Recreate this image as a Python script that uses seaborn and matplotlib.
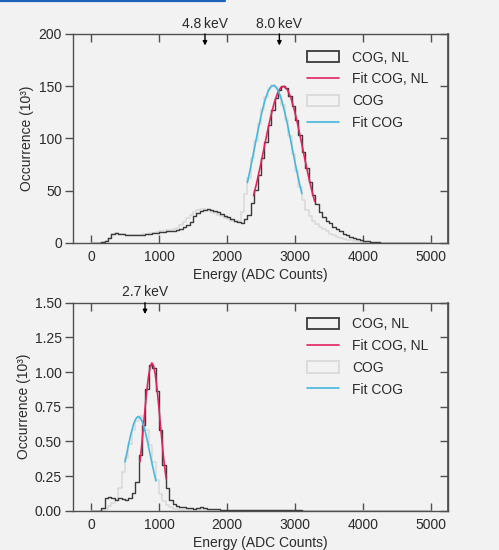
import numpy as np
import pandas as pd
import matplotlib
matplotlib.use("Agg")
import matplotlib.pyplot as plt
import matplotlib.transforms as mtransforms
from matplotlib.patches import Patch
from matplotlib.lines import Line2D
import seaborn as sns

# ---------------- data ----------------
bin_width = 50
bin_left = np.arange(0, 5000, bin_width)   # histogram bins (ADC counts)

# top panel histograms (occurrence, 10^3)
top_cog_nl = [
    0, 0, 0, 0.5, 2, 5, 8.5, 9.5, 9, 8.5,
    8, 8, 7.5, 7.5, 7.5, 8, 8.5, 9, 9.5, 10,
    10.5, 10.5, 11, 11.5, 11.5, 12, 13, 15, 17, 20.5,
    25.5, 28.5, 30.5, 31.5, 32.5, 32, 31, 29.5, 28, 26,
    24.5, 23, 21.5, 20, 19.5, 23, 27, 38, 51, 65,
    81, 97, 113, 127, 139, 146, 150, 148, 141, 131,
    118, 103, 87, 72, 58, 46, 37, 30, 25, 21.5,
    19, 15.5, 13, 11, 9, 7.5, 6, 4.8, 3.7, 3,
    2.2, 1.6, 1.1, 0.8, 0.5, 0.4, 0.3, 0.2, 0.15, 0.1,
    0.1, 0.05, 0.05, 0, 0, 0, 0, 0, 0, 0,
]
top_cog = [
    0, 0, 0, 0.5, 2, 5, 8.5, 9.5, 9, 8.5,
    8, 8, 8, 8, 8, 8.5, 9, 9.5, 10, 10.5,
    11, 11.5, 12, 12.5, 13.5, 14.5, 17, 20, 23.5, 27,
    29.5, 31.5, 32.5, 32.5, 31.5, 30, 28.5, 27, 25.5, 24,
    22.5, 21.5, 20.5, 21, 30, 47, 62, 81, 98, 114,
    128, 140, 148, 151, 149, 142, 132, 118, 102, 85,
    69, 54, 41, 32, 26, 21, 18, 15.5, 13, 11,
    9, 7.5, 6, 5, 4, 3.2, 2.5, 2, 1.5, 1.1,
    0.8, 0.6, 0.4, 0.3, 0.2, 0.1, 0.1, 0, 0, 0,
    0, 0, 0, 0, 0, 0, 0, 0, 0, 0,
]

# bottom panel histograms (occurrence, 10^3)
bot_cog_nl = [
    0, 0, 0, 0.02, 0.09, 0.1, 0.095, 0.08, 0.095, 0.085,
    0.075, 0.095, 0.13, 0.21, 0.40, 0.62, 0.88, 1.05, 1.03, 0.86,
    0.58, 0.33, 0.16, 0.08, 0.045, 0.035, 0.03, 0.025, 0.02, 0.02,
    0.015, 0.02, 0.025, 0.02, 0.015, 0.012, 0.01, 0.01, 0.008, 0.008,
    0.006, 0.005, 0.005, 0.004, 0.004, 0.004, 0.003, 0.003, 0.003, 0.003,
    0.003, 0.002, 0.002, 0.002, 0.002, 0.002, 0.002, 0.002, 0.002, 0.002,
    0.002, 0.002, 0.001, 0.001, 0.001, 0.001, 0.001, 0.001, 0.001, 0.001,
    0.001, 0.001, 0.001, 0.001, 0.001, 0.001, 0.001, 0.001, 0.001, 0.001,
    0.001, 0.001, 0.001, 0.001, 0.001, 0.001, 0.001, 0.001, 0.001, 0.001,
    0.001, 0.001, 0.001, 0.001, 0.001, 0.001, 0.001, 0.001, 0.001, 0.001,
]
bot_cog = [
    0, 0, 0, 0.005, 0.015, 0.035, 0.055, 0.08, 0.16, 0.28,
    0.38, 0.48, 0.58, 0.65, 0.68, 0.65, 0.58, 0.47, 0.35, 0.22,
    0.12, 0.07, 0.04, 0.025, 0.015, 0.012, 0.008, 0.006, 0.005, 0.004,
    0.004, 0.003, 0.003, 0.003, 0.002, 0.002, 0.002, 0.002, 0.001, 0.001,
    0.001, 0.001, 0.001, 0.001, 0.001, 0.001, 0.001, 0.001, 0.001, 0.001,
    0, 0, 0, 0, 0, 0, 0, 0, 0, 0,
    0, 0, 0, 0, 0, 0, 0, 0, 0, 0,
    0, 0, 0, 0, 0, 0, 0, 0, 0, 0,
    0, 0, 0, 0, 0, 0, 0, 0, 0, 0,
    0, 0, 0, 0, 0, 0, 0, 0, 0, 0,
]

# fitted curves
top_fit_nl_x = [2390, 2440, 2490, 2540, 2590, 2640, 2690, 2740, 2790, 2840,
                2890, 2940, 2990, 3040, 3090, 3140, 3190, 3240, 3290]
top_fit_nl_y = [45.3, 58.6, 73.5, 89.4, 105.3, 120.3, 133.2, 142.9, 148.7, 149.9,
                146.4, 138.7, 127.3, 113.3, 97.7, 81.7, 66.2, 52.0, 39.6]
top_fit_x = [2300, 2350, 2400, 2450, 2500, 2550, 2600, 2650, 2700, 2750,
             2800, 2850, 2900, 2950, 3000, 3050, 3100]
top_fit_y = [57.8, 73.2, 89.6, 106.1, 121.6, 134.8, 144.6, 150.0, 150.6, 146.3,
             137.5, 125.0, 110.0, 93.6, 77.1, 61.4, 47.3]
bot_fit_nl_x = [720, 745, 770, 795, 820, 845, 870, 895, 920, 945,
                970, 995, 1020, 1045, 1070, 1095, 1105]
bot_fit_nl_y = [0.352, 0.471, 0.603, 0.738, 0.864, 0.968, 1.038, 1.065, 1.045, 0.982,
                0.882, 0.759, 0.624, 0.491, 0.370, 0.267, 0.231]
bot_fit_x = [500, 525, 550, 575, 600, 625, 650, 675, 700, 725,
             750, 775, 800, 825, 850, 875, 900, 925, 955]
bot_fit_y = [0.352, 0.411, 0.471, 0.528, 0.579, 0.622, 0.654, 0.673, 0.678, 0.668,
             0.645, 0.609, 0.564, 0.510, 0.452, 0.392, 0.333, 0.277, 0.215]

top_markers = [1676, 2770]
top_marker_labels = ["4.8\u2009keV", "8.0\u2009keV"]
bot_markers = [794]
bot_marker_labels = ["2.7\u2009keV"]

legend_labels = ["COG, NL", "Fit COG, NL", "COG", "Fit COG"]
x_label = "Energy (ADC Counts)"
y_label = "Occurrence (10\u00b3)"

# ---------------- style ----------------
sns.set_theme(style="ticks")
plt.rcParams['font.family'] = ['Liberation Sans', 'DejaVu Sans']
BG = '#f2f2f2'
SPINE = '#505050'
TXT = '#2a2a2a'
DARK = '#3a3a3a'
LIGHT = '#d9d9d9'
RED = '#e0245e'
BLUE = '#45b8de'
FS = 10

fig = plt.figure(figsize=(4.99, 5.5), dpi=100, facecolor=BG)
ax1 = fig.add_axes([0.1463, 0.5582, 0.7515, 0.3800])
ax2 = fig.add_axes([0.1463, 0.0715, 0.7515, 0.3782])

fig.add_artist(Line2D([0, 225 / 499], [1 - 1.2 / 550] * 2, color='#1c62b8', lw=1.6,
                      transform=fig.transFigure))

centers = bin_left + bin_width / 2


def panel(ax, cog, cog_nl, fx, fy, fnx, fny, ylim, yticks, yfmt, markers, mlabels,
          leg_y):
    ax.set_facecolor(BG)
    df = pd.DataFrame({'energy': centers, 'cog': cog, 'cog_nl': cog_nl})
    sns.histplot(data=df, x='energy', weights='cog', binwidth=bin_width,
                 binrange=(0, 5000), element='step',
                 fill=False, color=LIGHT, linewidth=1.1, ax=ax)
    sns.histplot(data=df, x='energy', weights='cog_nl', binwidth=bin_width,
                 binrange=(0, 5000), element='step',
                 fill=False, color=DARK, linewidth=1.0, ax=ax)
    fit_nl = pd.DataFrame({'x': fnx, 'y': fny})
    fit = pd.DataFrame({'x': fx, 'y': fy})
    sns.lineplot(data=fit_nl, x='x', y='y', color=RED, linewidth=1.2, ax=ax)
    sns.lineplot(data=fit, x='x', y='y', color=BLUE, linewidth=1.2, ax=ax)

    ax.set_xlim(-265, 5250)
    ax.set_ylim(*ylim)
    ax.set_xticks([0, 1000, 2000, 3000, 4000, 5000])
    ax.set_yticks(yticks)
    ax.set_yticklabels([yfmt.format(v) for v in yticks])
    ax.set_xlabel(x_label, fontsize=FS, color=TXT, labelpad=3)
    ax.set_ylabel(y_label, fontsize=FS, color=TXT, labelpad=3)
    for s in ax.spines.values():
        s.set_visible(True)
        s.set_color(SPINE)
        s.set_linewidth(1.0)
    ax.tick_params(axis='x', direction='in', top=True, bottom=True, length=6,
                   width=1.0, color=SPINE, labelsize=FS, labelcolor=TXT, pad=5)
    ax.tick_params(axis='y', direction='out', left=True, right=False, length=6,
                   width=1.0, color=SPINE, labelsize=FS, labelcolor=TXT, pad=2)
    sec = ax.secondary_yaxis('right')
    sec.set_yticks(yticks)
    sec.tick_params(direction='in', length=6, width=1.0, color=SPINE, labelright=False)
    sec.spines['right'].set_color(SPINE)

    trans = mtransforms.blended_transform_factory(ax.transData, ax.transAxes)
    for m, lab in zip(markers, mlabels):
        ax.annotate('', xy=(m, 0.945), xycoords=trans, xytext=(m, 1.0), textcoords=trans,
                    arrowprops=dict(arrowstyle='-|>', color='black', lw=1.0,
                                    mutation_scale=6, shrinkA=0, shrinkB=0),
                    annotation_clip=False)
        ax.text(m, 1.03, lab, transform=trans, ha='center', va='baseline',
                fontsize=FS, color=TXT)

    handles = [Patch(facecolor='none', edgecolor=DARK, linewidth=1.3),
               Line2D([], [], color=RED, lw=1.2),
               Patch(facecolor='none', edgecolor=LIGHT, linewidth=1.3),
               Line2D([], [], color=BLUE, lw=1.2)]
    ax.legend(handles, legend_labels, loc='upper left', bbox_to_anchor=(0.623, leg_y),
              frameon=False, fontsize=10, handlelength=2.35, handleheight=0.85,
              handletextpad=0.9, labelspacing=0.56, borderpad=0, borderaxespad=0,
              labelcolor=TXT)


panel(ax1, top_cog, top_cog_nl, top_fit_x, top_fit_y, top_fit_nl_x, top_fit_nl_y,
      (0, 200), [0, 50, 100, 150, 200], "{:.0f}", top_markers, top_marker_labels, 0.92)
panel(ax2, bot_cog, bot_cog_nl, bot_fit_x, bot_fit_y, bot_fit_nl_x, bot_fit_nl_y,
      (0, 1.5), [0, 0.25, 0.5, 0.75, 1.0, 1.25, 1.5], "{:.2f}", bot_markers,
      bot_marker_labels, 0.93)

fig.savefig('out.png', dpi=100, facecolor=BG)
